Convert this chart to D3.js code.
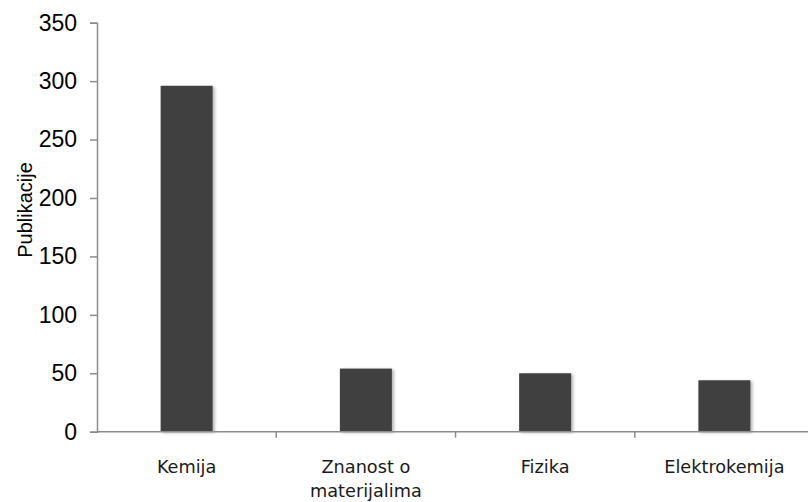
<!DOCTYPE html>
<html>
<head>
<meta charset="utf-8">
<script src="https://cdn.jsdelivr.net/npm/d3@7"></script>
<style>
  body { margin: 0; background: #fff; }
  svg { display: block; }
</style>
</head>
<body>
<div id="chart"></div>
<script>
var categories = ["Kemija", "Znanost o materijalima", "Fizika", "Elektrokemija"];
var labelLines = [["Kemija"], ["Znanost o", "materijalima"], ["Fizika"], ["Elektrokemija"]];
var publications = [296, 54, 50, 44];
var yTicks = [0, 50, 100, 150, 200, 250, 300, 350];

var margin = {top: 22.7, right: 0, bottom: 70.3, left: 97},
    width = 717,
    height = 502 - margin.top - margin.bottom;

var svg = d3.select("#chart")
  .append("svg")
    .attr("width", 808)
    .attr("height", 502);

var defs = svg.append("defs");
var shadow = defs.append("filter")
    .attr("id", "barShadow")
    .attr("x", "-10%").attr("y", "-10%")
    .attr("width", "130%").attr("height", "130%");
shadow.append("feDropShadow")
    .attr("dx", 2).attr("dy", 1)
    .attr("stdDeviation", 1.5)
    .attr("flood-color", "#000")
    .attr("flood-opacity", 0.3);

var g = svg.append("g")
    .attr("transform", "translate(" + margin.left + "," + margin.top + ")");

var x = d3.scaleBand()
  .range([0, width])
  .domain(categories)
  .paddingInner(0.71)
  .paddingOuter(0.355);

var y = d3.scaleLinear()
  .domain([0, 350])
  .range([height, 0]);

// bars
g.selectAll("rect.bar")
  .data(categories)
  .enter()
  .append("rect")
    .attr("class", "bar")
    .attr("x", function(d) { return x(d); })
    .attr("width", x.bandwidth())
    .attr("y", function(d, i) { return y(publications[i]); })
    .attr("height", function(d, i) { return height - y(publications[i]); })
    .attr("fill", "#404040")
    .attr("filter", "url(#barShadow)");

// y axis
var yAxis = g.append("g")
  .call(d3.axisLeft(y).tickValues(yTicks).tickSize(7).tickPadding(13));
yAxis.select(".domain").attr("stroke", "#8c8c8c").attr("stroke-width", 1.5);
yAxis.selectAll(".tick line").attr("stroke", "#8c8c8c").attr("stroke-width", 1.5);
yAxis.selectAll(".tick text")
    .attr("fill", "#000")
    .style("font-family", "'Liberation Sans', Arial, sans-serif")
    .style("font-size", "23px");

// x axis
var xAxis = g.append("g")
  .attr("transform", "translate(0," + height + ")");
xAxis.append("line")
    .attr("x1", 0).attr("x2", width)
    .attr("stroke", "#8c8c8c").attr("stroke-width", 1.5);
xAxis.selectAll("line.tick")
  .data(categories.slice(1))
  .enter()
  .append("line")
    .attr("class", "tick")
    .attr("x1", function(d) { return x(d) - x.step() * x.paddingInner() / 2; })
    .attr("x2", function(d) { return x(d) - x.step() * x.paddingInner() / 2; })
    .attr("y1", 0).attr("y2", 6)
    .attr("stroke", "#8c8c8c").attr("stroke-width", 1.5);

var labels = xAxis.selectAll("text.cat")
  .data(categories)
  .enter()
  .append("text")
    .attr("class", "cat")
    .attr("x", function(d) { return x(d) + x.bandwidth() / 2; })
    .attr("y", 41)
    .attr("text-anchor", "middle")
    .attr("fill", "#1a1a1a")
    .style("font-family", "'DejaVu Sans', Tahoma, sans-serif")
    .style("font-size", "17.7px");
labels.selectAll("tspan")
  .data(function(d, i) { return labelLines[i]; })
  .enter()
  .append("tspan")
    .attr("x", function() { var p = this.parentNode; return p.getAttribute("x"); })
    .attr("dy", function(d, i) { return i === 0 ? 0 : 24; })
    .text(function(d) { return d; });

// y axis title
svg.append("text")
    .attr("transform", "translate(32," + 210 + ") rotate(-90)")
    .attr("text-anchor", "middle")
    .attr("fill", "#000")
    .style("font-family", "'Liberation Sans', Arial, sans-serif")
    .style("font-size", "20px")
    .text("Publikacije");
</script>
</body>
</html>
